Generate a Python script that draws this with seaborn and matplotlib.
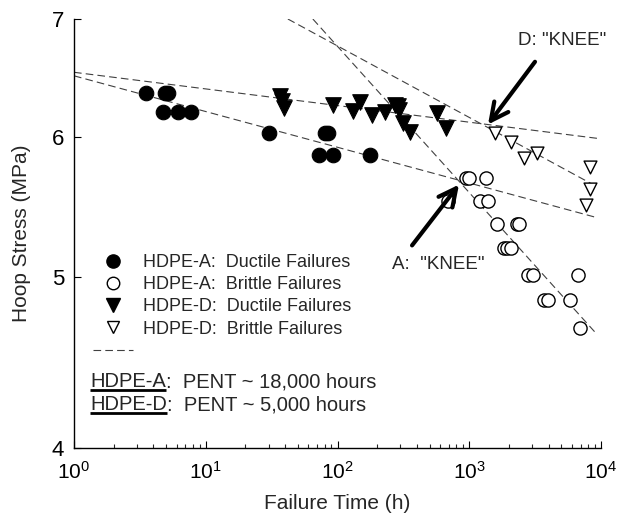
import numpy as np
import pandas as pd
import matplotlib
matplotlib.use("Agg")
import matplotlib.pyplot as plt
import seaborn as sns
from matplotlib.lines import Line2D
from matplotlib.ticker import FixedLocator, FixedFormatter, LogLocator, NullFormatter, NullLocator, LogFormatterMathtext

# ---------------- data ----------------
a_ductile_t = [3.5, 4.9, 5.2, 4.7, 6.2, 7.7, 30, 80, 84, 72, 92, 176]
a_ductile_s = [6.36, 6.36, 6.36, 6.20, 6.20, 6.20, 6.03, 6.03, 6.03, 5.86, 5.86, 5.86]

a_brittle_t = [945, 995, 1340, 690, 1206, 1388, 1624, 2304, 2386, 1835, 1934, 2074,
               2792, 3047, 6690, 3693, 3960, 5817, 6928]
a_brittle_s = [5.69, 5.69, 5.69, 5.52, 5.52, 5.52, 5.36, 5.36, 5.36, 5.19, 5.19, 5.19,
               5.01, 5.01, 5.01, 4.85, 4.85, 4.85, 4.68]

d_ductile_t = [36.6, 37.9, 39.3, 92.4, 148, 131, 183, 229, 273, 288, 293, 314, 355, 569, 666]
d_ductile_s = [6.33, 6.29, 6.23, 6.26, 6.28, 6.21, 6.18, 6.20, 6.26, 6.25, 6.22, 6.11, 6.04, 6.19, 6.07]

d_brittle_t = [1568, 2074, 2603, 3268, 8251, 8251, 7691]
d_brittle_s = [6.03, 5.96, 5.84, 5.88, 5.77, 5.61, 5.49]

# dashed power-law fit lines (end points)
fit_a_ductile_t = [1, 9500]
fit_a_ductile_s = [6.50, 5.40]
fit_d_ductile_t = [1, 9500]
fit_d_ductile_s = [6.53, 5.99]
fit_a_brittle_t = [65, 9300]
fit_a_brittle_s = [7.0, 4.64]
fit_d_brittle_t = [42, 8700]
fit_d_brittle_s = [7.0, 5.64]

legend_labels = ["HDPE-A:  Ductile Failures", "HDPE-A:  Brittle Failures",
                 "HDPE-D:  Ductile Failures", "HDPE-D:  Brittle Failures"]
x_label = "Failure Time (h)"
y_label = "Hoop Stress (MPa)"
y_ticks = [4, 5, 6, 7]
y_tick_labels = ["4", "5", "6", "7"]
pent_names = ["HDPE-A", "HDPE-D"]
pent_rest = [":  PENT ~ 18,000 hours", ":  PENT ~ 5,000 hours"]
knee_d_text = 'D: "KNEE"'
knee_a_text = 'A:  "KNEE"'

# ---------------- style ----------------
sns.set_style("ticks")
plt.rcParams['font.family'] = ['Liberation Sans', 'DejaVu Sans']
plt.rcParams['mathtext.fontset'] = 'custom'
plt.rcParams['mathtext.rm'] = 'Liberation Sans'
plt.rcParams['mathtext.it'] = 'Liberation Sans:italic'
plt.rcParams['mathtext.bf'] = 'Liberation Sans:bold'
plt.rcParams['lines.scale_dashes'] = False

W, H = 623, 519
fig = plt.figure(figsize=(W / 100, H / 100), dpi=100)
ax = fig.add_axes([74 / W, 1 - 448 / H, (601 - 74) / W, (448 - 19) / H])

dash = (5.5, 3.0)
fit_color = '0.25'
for t, s in [(fit_a_ductile_t, fit_a_ductile_s), (fit_d_ductile_t, fit_d_ductile_s),
             (fit_a_brittle_t, fit_a_brittle_s), (fit_d_brittle_t, fit_d_brittle_s)]:
    ax.plot(t, s, color=fit_color, lw=0.8, linestyle=(0, dash), zorder=1)

df = pd.concat([
    pd.DataFrame({"t": a_ductile_t, "s": a_ductile_s, "grp": legend_labels[0]}),
    pd.DataFrame({"t": a_brittle_t, "s": a_brittle_s, "grp": legend_labels[1]}),
    pd.DataFrame({"t": d_ductile_t, "s": d_ductile_s, "grp": legend_labels[2]}),
    pd.DataFrame({"t": d_brittle_t, "s": d_brittle_s, "grp": legend_labels[3]}),
])

specs = {
    legend_labels[0]: dict(marker='o', s=110, facecolor='black', edgecolor='black', linewidth=0.8),
    legend_labels[1]: dict(marker='o', s=90, facecolor='white', edgecolor='black', linewidth=1.0),
    legend_labels[2]: dict(marker='v', s=125, facecolor='black', edgecolor='black', linewidth=0.8),
    legend_labels[3]: dict(marker='v', s=85, facecolor='white', edgecolor='black', linewidth=1.0),
}
for lab in legend_labels:
    sub = df[df.grp == lab]
    sns.scatterplot(data=sub, x="t", y="s", ax=ax, legend=False, zorder=3, **specs[lab])

ax.set_xscale('log')
ax.set_yscale('log')
ax.set_xlim(1, 1e4)
ax.set_ylim(4, 7)

ax.xaxis.set_major_locator(LogLocator(base=10, numticks=10))
ax.xaxis.set_major_formatter(LogFormatterMathtext())
ax.xaxis.set_minor_locator(LogLocator(base=10, subs=np.arange(2, 10), numticks=20))
ax.xaxis.set_minor_formatter(NullFormatter())
ax.yaxis.set_major_locator(FixedLocator(y_ticks))
ax.yaxis.set_major_formatter(FixedFormatter(y_tick_labels))
ax.yaxis.set_minor_locator(NullLocator())

ax.tick_params(axis='both', which='major', direction='in', length=5, width=0.8,
               colors='black', pad=6)
ax.tick_params(axis='x', which='major', labelsize=15, pad=9)
ax.tick_params(axis='y', which='major', labelsize=16, pad=7)
ax.tick_params(axis='x', which='minor', direction='in', length=3, width=0.8)
for sp in ['top', 'right']:
    ax.spines[sp].set_visible(False)
for sp in ['left', 'bottom']:
    ax.spines[sp].set_linewidth(1.0)
    ax.spines[sp].set_color('black')

ax.set_xlabel(x_label, fontsize=15, labelpad=8)
ax.set_ylabel(y_label, fontsize=15, labelpad=15)

# legend
handles = [
    Line2D([], [], marker='o', linestyle='none', markersize=9.5, markerfacecolor='black', markeredgecolor='black'),
    Line2D([], [], marker='o', linestyle='none', markersize=9, markerfacecolor='white', markeredgecolor='black'),
    Line2D([], [], marker='v', linestyle='none', markersize=10, markerfacecolor='black', markeredgecolor='black'),
    Line2D([], [], marker='v', linestyle='none', markersize=9, markerfacecolor='white', markeredgecolor='black'),
    Line2D([], [], color=fit_color, lw=0.8, linestyle=(0, dash)),
]
ax.legend(handles, legend_labels + [""], loc='upper left',
          bbox_to_anchor=((93 - 74) / 527, (448 - 254) / 429),
          frameon=False, fontsize=13, handlelength=2.2, handletextpad=0.55,
          labelspacing=0.29, borderpad=0, borderaxespad=0)

# PENT notes with underlined names
fig.canvas.draw()
renderer = fig.canvas.get_renderer()
for i, (nm, rest) in enumerate(zip(pent_names, pent_rest)):
    ybase = (448 - (387 + 23.5 * i)) / 429
    t1 = ax.text((90 - 74) / 527, ybase, nm, transform=ax.transAxes, fontsize=14.5,
                 ha='left', va='baseline')
    bb = t1.get_window_extent(renderer=renderer)
    inv = ax.transAxes.inverted()
    x0, _ = inv.transform((bb.x0, 0))
    x1, _ = inv.transform((bb.x1, 0))
    uy = ybase - 2.5 / 429
    ax.add_line(Line2D([x0, x1], [uy, uy], transform=ax.transAxes, color='black', lw=2.0,
                       solid_capstyle='butt'))
    ax.text(x1, ybase, rest, transform=ax.transAxes, fontsize=14.5, ha='left', va='baseline')

# knee annotations
arrowprops = dict(arrowstyle='->,head_length=0.9,head_width=0.45', lw=3, color='black',
                  shrinkA=0, shrinkB=0, mutation_scale=14)
ax.annotate('', xy=(1388, 6.10), xytext=(3155, 6.62), arrowprops=arrowprops)
ax.annotate('', xy=(836, 5.64), xytext=(368, 5.21), arrowprops=arrowprops)
ax.text(5058, 6.81, knee_d_text, fontsize=13.5, ha='center', va='center')
ax.text(579, 5.08, knee_a_text, fontsize=13.5, ha='center', va='center')

fig.savefig('out.png', dpi=100)
